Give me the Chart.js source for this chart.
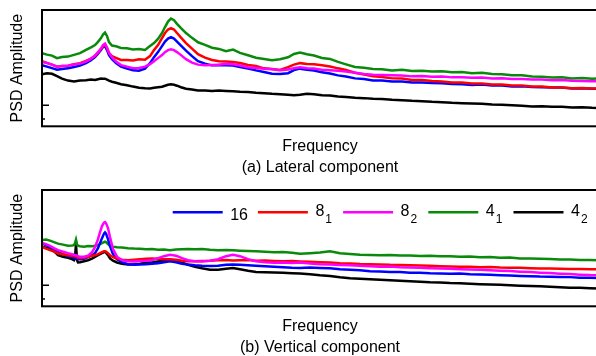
<!DOCTYPE html>
<html>
<head>
<meta charset="utf-8">
<script src="https://cdn.jsdelivr.net/npm/chart.js@4.4.1/dist/chart.umd.min.js"></script>
<style>
  html, body { margin: 0; padding: 0; background: #fff; overflow: hidden; }
  #wrap { position: relative; width: 596px; height: 356px; overflow: hidden; }
  #wrap canvas { position: absolute; left: 0; }
</style>
</head>
<body>
<div id="wrap">
  <canvas id="lateral" width="600" height="178" style="top:0"></canvas>
  <canvas id="vertical" width="600" height="178" style="top:180px"></canvas>
</div>
<script>
// series names: "8_1" -> 8 with subscript 1
const seriesNames = ['16', '8_1', '8_2', '4_1', '4_2'];
const seriesColors = ['#0000ff', '#ff0000', '#ff00ff', '#0a8a0a', '#000000'];
const drawOrder = [3, 2, 1, 4, 5];

const yTicks = [0.73, 2.1];
const yTickLen = [3, 7];

// (a) lateral component
const freqLateral = [
  0, 0.5, 1.0, 1.5, 2.0, 2.6, 3.2, 3.8, 4.4, 4.9,
  5.3, 5.6, 5.9, 6.1, 6.3, 6.5, 6.7, 7.0, 7.4, 7.9,
  8.5, 9.1, 9.7, 10.3, 10.8, 11.2, 11.6, 12.0, 12.3, 12.6,
  12.9, 13.2, 13.5, 13.9, 14.4, 15.0, 15.6, 16.3, 17.0, 17.7,
  18.4, 19.1, 19.8, 20.6, 21.4, 22.2, 23.0, 23.8, 24.6, 25.2,
  25.8, 26.5, 27.2, 28.0, 28.8, 29.6, 30.4, 31.3, 32.2, 33.1,
  34.0, 35.0, 36.0, 37.0, 38.0, 39.0, 40.0, 41.0, 42.0, 43.0,
  44.0, 45.0, 46.0, 47.0, 48.0, 49.0, 50.0, 51.0, 52.0, 53.0,
  54.0, 55.0, 55.6
];
const lat16 = [
  6.1, 5.95, 5.8, 5.65, 5.72, 5.78, 5.92, 6.05, 6.3, 6.6,
  6.9, 7.25, 7.6, 7.9, 8.0, 7.6, 7.1, 6.7, 6.3, 5.95,
  5.75, 5.58, 5.55, 5.75, 6.3, 6.9, 7.4, 8.0, 8.45, 8.75,
  8.9, 8.75, 8.45, 8.05, 7.55, 7.0, 6.5, 6.25, 6.08, 6.12,
  6.08, 6.06, 5.9, 5.76, 5.58, 5.42, 5.24, 5.22, 5.3, 5.6,
  5.75, 5.64, 5.56, 5.38, 5.26, 5.08, 4.96, 4.78, 4.72, 4.58,
  4.56, 4.48, 4.46, 4.38, 4.36, 4.32, 4.3, 4.22, 4.2, 4.13,
  4.16, 4.08, 4.06, 3.98, 4.0, 3.93, 3.9, 3.86, 3.86, 3.78,
  3.79, 3.74, 3.75
];
const lat8a = [
  6.5, 6.32, 6.15, 5.95, 6.02, 6.05, 6.18, 6.3, 6.52, 6.75,
  7.0, 7.35, 7.7, 8.0, 8.15, 7.8, 7.3, 7.0, 6.82, 6.62,
  6.62, 6.56, 6.68, 6.63, 7.0, 7.6, 8.1, 8.8, 9.3, 9.65,
  9.8, 9.65, 9.3, 8.85, 8.3, 7.75, 7.2, 6.85, 6.62, 6.48,
  6.46, 6.42, 6.32, 6.12, 6.02, 5.78, 5.72, 5.62, 5.9, 6.15,
  6.3, 6.22, 6.2, 6.08, 5.96, 5.78, 5.62, 5.34, 5.16, 4.98,
  4.92, 4.78, 4.76, 4.62, 4.62, 4.52, 4.46, 4.38, 4.36, 4.28,
  4.26, 4.18, 4.16, 4.08, 4.06, 3.98, 3.96, 3.88, 3.88, 3.8,
  3.82, 3.76, 3.76
];
const lat8b = [
  6.43, 6.3, 6.15, 5.95, 6.02, 6.05, 6.16, 6.25, 6.45, 6.75,
  7.05, 7.4, 7.75, 8.1, 8.25, 7.85, 7.35, 6.9, 6.45, 6.1,
  5.95, 5.8, 5.82, 5.95, 6.2, 6.5, 6.8, 7.1, 7.4, 7.6,
  7.67, 7.6, 7.4, 7.1, 6.7, 6.35, 6.15, 6.08, 6.12, 6.15,
  6.25, 6.18, 6.06, 5.9, 5.82, 5.74, 5.7, 5.6, 5.66, 5.8,
  5.9, 5.8, 5.76, 5.64, 5.6, 5.53, 5.46, 5.34, 5.22, 5.14,
  5.12, 5.08, 5.06, 4.98, 5.01, 4.94, 4.96, 4.88, 4.9, 4.84,
  4.86, 4.78, 4.8, 4.73, 4.71, 4.68, 4.66, 4.59, 4.61, 4.54,
  4.53, 4.49, 4.5
];
const lat4a = [
  7.3, 7.15, 7.05, 6.8, 6.92, 6.95, 7.12, 7.3, 7.62, 7.88,
  8.1, 8.42, 8.8, 9.15, 9.35, 9.0, 8.4, 8.05, 7.98, 7.82,
  7.78, 7.66, 7.7, 7.62, 8.0, 8.3, 8.72, 9.3, 9.9, 10.45,
  10.75, 10.58, 10.22, 9.8, 9.3, 8.82, 8.38, 8.12, 7.84, 7.72,
  7.48, 7.66, 7.32, 7.08, 6.84, 6.72, 6.58, 6.68, 6.88, 7.22,
  7.35, 7.18, 7.06, 6.82, 6.72, 6.42, 6.18, 5.92, 5.84, 5.72,
  5.68, 5.56, 5.64, 5.52, 5.54, 5.46, 5.5, 5.38, 5.42, 5.3,
  5.34, 5.22, 5.2, 5.1, 5.08, 4.96, 4.95, 4.86, 4.88, 4.78,
  4.82, 4.74, 4.78
];
const lat4b = [
  5.2, 5.3, 5.24, 5.0, 4.75, 4.56, 4.48, 4.56, 4.6, 4.66,
  4.63, 4.7, 4.76, 4.74, 4.75, 4.65, 4.55, 4.45, 4.35, 4.2,
  4.1, 3.96, 3.84, 3.8, 3.78, 3.85, 3.9, 3.95, 4.05, 4.15,
  4.2, 4.15, 4.05, 3.9, 3.75, 3.66, 3.58, 3.56, 3.52, 3.57,
  3.53, 3.5, 3.44, 3.41, 3.34, 3.3, 3.24, 3.2, 3.14, 3.1,
  3.15, 3.25, 3.2, 3.1, 3.06, 2.98, 2.92, 2.84, 2.81, 2.74,
  2.72, 2.64, 2.61, 2.54, 2.51, 2.44, 2.41, 2.34, 2.31, 2.28,
  2.26, 2.18, 2.16, 2.1, 2.06, 1.98, 2.01, 1.95, 1.94, 1.88,
  1.89, 1.84, 1.83
];

// (b) vertical component
const freqVertical = [
  0, 0.4, 0.8, 1.2, 1.6, 2.1, 2.6, 3.0, 3.2, 3.3,
  3.4, 3.5, 3.6, 3.8, 4.2, 4.6, 5.0, 5.3, 5.6, 5.8,
  6.0, 6.2, 6.3, 6.4, 6.6, 6.8, 7.1, 7.5, 8.0, 8.6,
  9.2, 9.8, 10.4, 11.0, 11.6, 12.2, 12.8, 13.4, 14.0, 14.6,
  15.3, 16.0, 16.8, 17.6, 18.4, 19.1, 19.8, 20.6, 21.4, 22.3,
  23.2, 24.1, 25.0, 25.8, 26.8, 27.8, 28.8, 29.8, 30.8, 31.8,
  32.8, 33.8, 34.8, 35.8, 36.8, 37.8, 38.8, 39.8, 40.8, 41.8,
  42.8, 43.8, 44.8, 45.8, 46.8, 47.8, 48.8, 49.8, 50.8, 51.8,
  52.8, 53.8, 54.8, 55.6
];
const ver16 = [
  6.27, 6.1, 5.93, 5.7, 5.43, 5.2, 5.0, 4.9, 4.85, 4.8,
  4.8, 4.75, 4.7, 4.7, 4.75, 4.9, 5.1, 5.3, 5.8, 6.3,
  6.8, 7.25, 7.37, 7.25, 6.7, 6.0, 5.2, 4.7, 4.4, 4.2,
  4.15, 4.17, 4.2, 4.25, 4.3, 4.4, 4.5, 4.4, 4.25, 4.17,
  4.1, 4.05, 4.03, 4.05, 4.15, 4.17, 4.15, 4.1, 4.05, 4.0,
  3.95, 3.9, 3.85, 3.83, 3.86, 3.82, 3.8, 3.7, 3.65, 3.6,
  3.5, 3.46, 3.42, 3.41, 3.34, 3.34, 3.29, 3.28, 3.24, 3.26,
  3.19, 3.18, 3.14, 3.1, 3.06, 3.02, 3.0, 2.96, 2.95, 2.92,
  2.91, 2.86, 2.86, 2.83
];
const ver8a = [
  5.93, 5.75, 5.6, 5.45, 5.27, 5.2, 5.1, 5.05, 5.0, 5.0,
  4.95, 4.9, 4.85, 4.83, 4.85, 4.95, 5.05, 5.1, 5.2, 5.3,
  5.4, 5.5, 5.5, 5.45, 5.3, 5.1, 4.9, 4.77, 4.65, 4.6,
  4.65, 4.7, 4.75, 4.77, 4.75, 4.7, 4.7, 4.65, 4.55, 4.5,
  4.5, 4.52, 4.55, 4.6, 4.62, 4.58, 4.6, 4.62, 4.55, 4.56,
  4.53, 4.5, 4.52, 4.48, 4.45, 4.4, 4.37, 4.3, 4.28, 4.22,
  4.2, 4.18, 4.14, 4.13, 4.1, 4.07, 4.04, 4.0, 3.98, 3.95,
  3.94, 3.9, 3.91, 3.86, 3.85, 3.84, 3.8, 3.78, 3.78, 3.75,
  3.73, 3.71, 3.7, 3.7
];
const ver8b = [
  6.33, 6.2, 6.03, 5.8, 5.6, 5.45, 5.3, 5.2, 5.15, 5.1,
  5.1, 5.05, 5.0, 4.95, 4.95, 5.05, 5.4, 5.9, 6.7, 7.4,
  8.0, 8.35, 8.4, 8.3, 7.8, 6.9, 5.7, 4.95, 4.6, 4.5,
  4.48, 4.52, 4.55, 4.6, 4.8, 5.0, 5.15, 5.05, 4.8, 4.6,
  4.5, 4.48, 4.55, 4.7, 5.0, 5.15, 5.0, 4.7, 4.5, 4.4,
  4.34, 4.37, 4.33, 4.36, 4.28, 4.2, 4.18, 4.13, 4.1, 4.04,
  4.0, 3.94, 3.96, 3.89, 3.86, 3.84, 3.8, 3.76, 3.74, 3.7,
  3.66, 3.64, 3.6, 3.55, 3.51, 3.45, 3.41, 3.35, 3.31, 3.25,
  3.21, 3.15, 3.11, 3.1
];
const ver4a = [
  6.6, 6.66, 6.55, 6.4, 6.25, 6.15, 6.05, 6.06, 6.1, 6.3,
  6.65, 6.2, 6.05, 6.0, 5.95, 6.02, 5.98, 6.05, 6.1, 6.2,
  6.3, 6.4, 6.45, 6.4, 6.2, 6.05, 5.95, 5.9, 5.86, 5.8,
  5.76, 5.74, 5.7, 5.72, 5.64, 5.66, 5.6, 5.66, 5.7, 5.72,
  5.68, 5.72, 5.64, 5.6, 5.62, 5.58, 5.55, 5.52, 5.48, 5.45,
  5.4, 5.42, 5.34, 5.25, 5.3, 5.36, 5.5, 5.3, 5.22, 5.14,
  5.12, 5.08, 5.12, 5.06, 5.06, 5.02, 5.03, 4.98, 5.0, 4.94,
  4.96, 4.9, 4.92, 4.84, 4.86, 4.78, 4.76, 4.74, 4.72, 4.68,
  4.66, 4.63, 4.62, 4.6
];
const ver4b = [
  5.93, 5.85, 5.77, 5.5, 5.1, 4.95, 4.83, 4.7, 4.6, 4.9,
  6.2, 4.6, 4.37, 4.4, 4.5, 4.6, 4.75, 4.93, 5.1, 5.2,
  5.3, 5.4, 5.43, 5.35, 5.1, 4.77, 4.55, 4.37, 4.25, 4.17,
  4.2, 4.25, 4.35, 4.4, 4.47, 4.55, 4.6, 4.5, 4.35, 4.15,
  3.95, 3.8, 3.65, 3.65, 3.75, 3.83, 3.7, 3.55, 3.43, 3.4,
  3.37, 3.35, 3.3, 3.27, 3.2, 3.1, 3.03, 2.9, 2.8, 2.75,
  2.7, 2.66, 2.6, 2.56, 2.5, 2.46, 2.4, 2.38, 2.33, 2.31,
  2.25, 2.21, 2.17, 2.14, 2.1, 2.06, 2.03, 2.0, 1.95, 1.91,
  1.85, 1.84, 1.8, 1.77
];

const FONT = "'Liberation Sans', Arial, Helvetica, sans-serif";
Chart.defaults.font.family = FONT;
Chart.defaults.color = '#000';

// box around the plot area plus short inward ticks on the left edge
const framePlugin = {
  id: 'frame',
  afterDatasetsDraw(chart) {
    const { ctx, chartArea: a, scales: { y } } = chart;
    ctx.save();
    ctx.strokeStyle = '#000';
    ctx.lineWidth = 2;
    ctx.strokeRect(a.left, a.top, a.right - a.left, a.bottom - a.top);
    ctx.lineWidth = 1.5;
    yTicks.forEach((v, i) => {
      const py = y.getPixelForValue(v);
      ctx.beginPath();
      ctx.moveTo(a.left, py);
      ctx.lineTo(a.left + yTickLen[i], py);
      ctx.stroke();
    });
    ctx.restore();
  }
};

// legend in one row, with subscripted labels
const subLegendPlugin = {
  id: 'subLegend',
  afterDraw(chart, args, opts) {
    if (!opts.display) return;
    const { ctx, chartArea: a } = chart;
    ctx.save();
    chart.data.datasets.forEach((ds, i) => {
      const x0 = a.left + 130.7 + i * 85.2;
      const ly = a.top + 22.3;
      ctx.strokeStyle = ds.borderColor;
      ctx.lineWidth = 2.5;
      ctx.beginPath();
      ctx.moveTo(x0, ly);
      ctx.lineTo(x0 + 50, ly);
      ctx.stroke();

      const [main, sub] = ds.label.split('_');
      const tx = x0 + 57.5;
      ctx.fillStyle = '#000';
      ctx.textAlign = 'left';
      ctx.textBaseline = 'alphabetic';
      ctx.font = '16px ' + FONT;
      ctx.fillText(main, tx, a.top + (sub ? 26 : 30));
      if (sub) {
        const w = ctx.measureText(main).width;
        ctx.font = '12px ' + FONT;
        ctx.fillText(sub, tx + w + 1, a.top + 33.3);
      }
    });
    ctx.restore();
  }
};

function makePanel(id, freq, series, caption, showLegend) {
  const datasets = series.map((vals, i) => ({
    label: seriesNames[i],
    data: freq.map((f, k) => ({ x: f, y: vals[k] })),
    borderColor: seriesColors[i],
    borderWidth: 2.5,
    pointRadius: 0,
    tension: 0,
    fill: false,
    order: drawOrder[i]
  }));

  return new Chart(document.getElementById(id), {
    type: 'line',
    data: { datasets },
    options: {
      responsive: false,
      animation: false,
      events: [],
      layout: { padding: { top: 10, right: 2, bottom: 1.3, left: 0 } },
      plugins: {
        legend: { display: false },
        tooltip: { enabled: false },
        title: {
          display: true,
          position: 'bottom',
          fullSize: false,
          text: caption,
          font: { size: 16, weight: 'normal' },
          color: '#000',
          padding: { top: 0, bottom: 0 }
        },
        subLegend: { display: showLegend }
      },
      scales: {
        x: {
          type: 'linear',
          min: 0,
          max: 55.6,
          ticks: { display: false },
          grid: { display: false },
          border: { display: false },
          title: {
            display: true,
            text: 'Frequency',
            font: { size: 16 },
            color: '#000',
            padding: { top: 0, bottom: 1.8 }
          },
          afterFit: (s) => { s.height = 31.2; }
        },
        y: {
          type: 'linear',
          min: 0,
          max: 11.6,
          ticks: { display: false },
          grid: { display: false },
          border: { display: false },
          title: {
            display: true,
            text: 'PSD Amplitude',
            font: { size: 16 },
            color: '#000',
            padding: { top: 8, bottom: 0 }
          },
          afterFit: (s) => { s.width = 42; }
        }
      }
    },
    plugins: [framePlugin, subLegendPlugin]
  });
}

makePanel('lateral', freqLateral, [lat16, lat8a, lat8b, lat4a, lat4b], '(a) Lateral component', false);
makePanel('vertical', freqVertical, [ver16, ver8a, ver8b, ver4a, ver4b], '(b) Vertical component', true);
</script>
</body>
</html>
